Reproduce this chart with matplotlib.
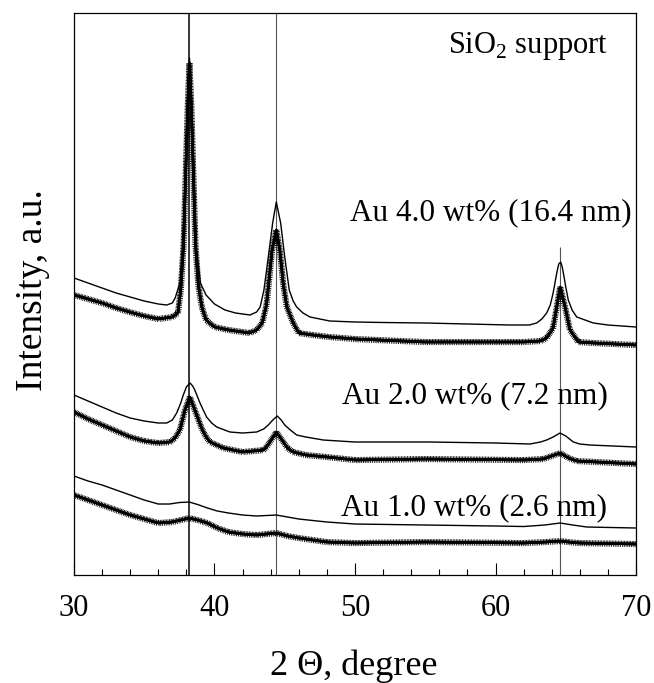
import matplotlib
matplotlib.use("Agg")
import matplotlib.pyplot as plt
import matplotlib.patheffects as pe

plt.rcParams["font.family"] = ["Liberation Serif", "DejaVu Serif"]
plt.rcParams["mathtext.fontset"] = "custom"
plt.rcParams["mathtext.rm"] = "Liberation Serif"

# Au reflections (deg)
peaks = [38.2, 44.4, 64.6]

# Au 4.0 wt% -- fitted curve
x4_fit = [30, 31, 32, 33, 34, 35, 36, 36.6, 37.0, 37.2, 37.54, 37.7, 37.85, 37.97, 38.1,
          38.22, 38.35, 38.49, 38.6, 38.73, 39.0, 39.4, 40.0, 40.75, 41.5, 42.53, 43.0,
          43.25, 43.52, 43.83, 44.14, 44.4, 44.71, 45.0, 45.32, 45.6, 45.85, 46.3, 46.8,
          47.5, 48.2, 50, 52, 55, 58, 61, 62.4, 62.93, 63.3, 63.64, 63.9, 64.1, 64.36,
          64.5, 64.64, 64.75, 64.88, 65.0, 65.18, 65.45, 65.78, 66.96, 68, 70]
y4_fit = [297, 292, 287, 282, 278, 274, 271, 270, 272, 277, 292, 325, 370, 425, 480,
          517, 480, 425, 375, 325, 292, 280, 271, 265, 262, 260, 263,
          268, 285, 318, 352, 373, 352, 318, 285, 274, 268, 262, 258,
          256, 254, 253, 252.5, 252, 251, 250, 250, 252, 256, 262, 270, 282, 302,
          311, 313, 308, 298, 288, 275, 265, 258, 252, 250, 248]
# Au 4.0 wt% -- measured
x4_obs = [30, 31, 32, 33, 34.2, 35, 36, 37.0, 37.4, 37.6, 37.8, 37.95, 38.1, 38.22,
          38.35, 38.5, 38.65, 38.85, 39.1, 39.4, 40.0, 41, 42.5, 43.0, 43.4, 43.7, 43.85,
          44.1, 44.4, 44.65, 44.9, 45.15, 45.6, 46.0, 47, 48.2, 50, 55, 62, 63.2, 63.64,
          64.1, 64.36, 64.6, 64.95, 65.3, 65.9, 67, 70]
y4_obs = [280, 276, 272, 267, 262, 259, 256, 258, 262, 285, 330, 400, 470, 512,
          470, 400, 330, 290, 268, 255, 248, 245, 242, 245, 252, 270, 290,
          325, 345, 325, 290, 268, 252, 242, 240, 238, 236, 233, 233, 234, 237,
          247, 268, 288, 268, 245, 233, 232, 230]

# Au 2.0 wt% -- fitted curve
x2_fit = [30, 31, 32, 33, 34, 35, 36, 36.6, 37.0, 37.31, 37.6, 37.78, 38.0, 38.26, 38.45,
          38.6, 38.97, 39.2, 39.44, 39.8, 40.16, 41.1, 42, 43.0, 43.5, 43.83, 44.15, 44.47,
          44.75, 45.0, 45.4, 45.85, 46.5, 47.74, 50, 55.3, 60, 62.45, 63.2, 63.64, 64.1,
          64.59, 65.0, 65.54, 66.0, 66.73, 70]
y2_fit = [180, 174, 168, 162, 157, 154, 152, 152, 155, 162, 172, 180, 188, 192, 189,
          185, 172, 165, 158, 152, 148, 143, 142, 143, 146, 150, 155, 159,
          155, 150, 145, 140, 138, 135, 133, 133, 132, 131, 133, 135, 138,
          142, 139, 133, 131, 130, 128]
# Au 2.0 wt% -- measured
x2_obs = [30, 31, 32, 33, 34, 35, 36, 36.83, 37.2, 37.54, 37.9, 38.25, 38.6, 39.08, 39.4,
          39.68, 40.63, 42, 43.5, 43.7, 44.18, 44.4, 44.9, 45.2, 45.6, 46.5, 48, 50, 55,
          62, 63.4, 64.0, 64.6, 65.2, 65.78, 70]
y2_obs = [163, 156, 150, 144, 138, 134, 132, 133, 137, 145, 165, 178, 165, 147, 138,
          133, 127, 123, 125, 128, 138, 143, 133, 127, 123, 120, 118, 115, 116,
          115, 116, 119, 122, 117, 114, 111]

# Au 1.0 wt% -- fitted curve
x1_fit = [30, 31, 32, 33, 34, 35, 36, 36.8, 37.5, 38.2, 38.8, 39.5, 40.2, 41, 42, 43, 44.4,
          45.2, 46, 47, 48, 50, 55, 60, 62, 63.5, 64.6, 65.5, 66.5, 70]
y1_fit = [99, 94, 90, 85, 80, 75, 71, 71, 72.5, 73, 70.5, 67, 64, 62, 60, 59, 60,
          58, 56, 54.5, 53, 51, 50, 49, 48.5, 50, 52, 50, 48, 47]
# Au 1.0 wt% -- measured
x1_obs = [30, 31, 32, 33, 34, 35, 36, 37, 37.6, 38.2, 38.8, 39.5, 40.2, 41, 42, 43, 44.4,
          45.2, 46, 47, 48, 50, 55, 62, 63.6, 64.6, 65.5, 66, 70]
y1_obs = [80, 75, 70, 65, 60, 56, 52, 53, 55, 57, 55, 52, 47, 43, 41, 40, 42,
          39, 37, 35, 33, 32, 33, 32, 33, 34, 32.5, 32, 31]

labels = ["Au 4.0 wt% (16.4 nm)", "Au 2.0 wt% (7.2 nm)", "Au 1.0 wt% (2.6 nm)"]
label_x = [69.7, 68.0, 67.9]
label_y = [355, 172, 60]

fig = plt.figure(figsize=(6.54, 6.83), dpi=100)
ax = fig.add_axes([0.1131, 0.1581, 0.8594, 0.8229])

# peak positions
ax.axvline(peaks[0], color="black", lw=1.1, zorder=1)
ax.axvline(peaks[1], color="#555555", lw=0.8, zorder=1)
ax.vlines(peaks[2], 0, 328, color="#555555", lw=0.8, zorder=1)

# noisy look for the measured patterns
fuzz = [pe.withTickedStroke(angle=90, spacing=1.1, length=1.7, linewidth=0.6),
        pe.withTickedStroke(angle=-90, spacing=1.3, length=1.5, linewidth=0.6),
        pe.Normal()]

for xf, yf, xo, yo in [(x4_fit, y4_fit, x4_obs, y4_obs),
                       (x2_fit, y2_fit, x2_obs, y2_obs),
                       (x1_fit, y1_fit, x1_obs, y1_obs)]:
    ax.plot(xf, yf, color="black", lw=1.0, zorder=3)
    ax.plot(xo, yo, color="black", lw=1.8, zorder=2, path_effects=fuzz)

for lab, lx, ly in zip(labels, label_x, label_y):
    ax.text(lx, ly, lab, ha="right", va="baseline", fontsize=22.5)
ax.text(68.0, 522, "SiO$_2$ support", ha="right", va="baseline", fontsize=22)

ax.set_xlim(30, 70)
ax.set_ylim(0, 562)
ax.set_xticks([30, 40, 50, 60, 70])
ax.set_xticks(range(30, 71, 2), minor=True)
ax.set_yticks([])
ax.tick_params(axis="x", which="major", direction="in", length=8.5, width=0.8,
               labelsize=22, pad=14)
ax.tick_params(axis="x", which="minor", direction="in", length=4.5, width=0.8)
for s in ax.spines.values():
    s.set_linewidth(0.9)

fig.text(0.541, 0.0117, "2 \u0398, degree", ha="center", va="baseline", fontsize=26)
fig.text(0.05, 0.575, "Intensity, a.u.", ha="center", va="center", rotation=90, fontsize=27)

fig.savefig("out.png", dpi=100)
